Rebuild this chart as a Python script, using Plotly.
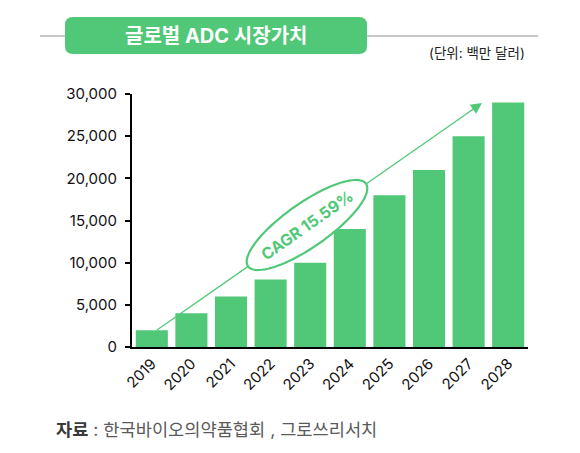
import numpy as np
import plotly.graph_objects as go

years = [2019, 2020, 2021, 2022, 2023, 2024, 2025, 2026, 2027, 2028]
values = [2000, 4000, 6000, 8000, 10000, 14000, 18000, 21000, 25000, 29000]
y_ticks = [0, 5000, 10000, 15000, 20000, 25000, 30000]
y_tick_labels = ["0", "5,000", "10,000", "15,000", "20,000", "25,000", "30,000"]
title_text = "<b>글로벌 ADC 시장가치</b>"
unit_text = "(단위: 백만 달러)"
source_text = "<b><span style='color:#3a3a3a'>자료</span></b> : 한국바이오의약품협회 , 그로쓰리서치"
cagr_text = "<b>CAGR 15.59%</b>"

GREEN = "#50c878"
FONT = "Inter, 'Noto Sans CJK KR', sans-serif"

# plot area in window pixels (page has an 8px body margin)
PL, PR, PT, PB = 132, 528, 94, 347
OFF = 8
W, H = 580, 453


def xp(wx):
    return (wx - PL) / (PR - PL)


def yp(wy):
    return (PB - wy) / (PB - PT)


def xd(wx):
    return 2018.5 + (wx - PL) / (PR - PL) * 10


def yd(wy):
    return (PB - wy) / (PB - PT) * 30000


fig = go.Figure()
fig.add_trace(go.Bar(x=years, y=values, marker=dict(color=GREEN, line=dict(width=0)),
                     hoverinfo="skip"))

# rotated ellipse in pixel offsets
ang = np.deg2rad(35)
a, b = 72, 22
t = np.linspace(0, 2 * np.pi, 97)
ex = a * np.cos(t) * np.cos(ang) - b * np.sin(t) * np.sin(ang)
ey = a * np.cos(t) * np.sin(ang) + b * np.sin(t) * np.cos(ang)
ell_path = "M " + " L ".join(f"{x:.2f},{y:.2f}" for x, y in zip(ex, ey)) + " Z"

box_path = ("M -143,18.5 L 143,18.5 Q 151,18.5 151,10.5 L 151,-10.5 Q 151,-18.5 143,-18.5 "
            "L -143,-18.5 Q -151,-18.5 -151,-10.5 L -151,10.5 Q -151,18.5 -143,18.5 Z")

arrow_start = (157, 330)
arrow_tip = (482, 103)
dx, dy = arrow_tip[0] - arrow_start[0], arrow_tip[1] - arrow_start[1]
L = (dx ** 2 + dy ** 2) ** 0.5
pre = (arrow_tip[0] - dx / L * 20, arrow_tip[1] - dy / L * 20)

fig.update_layout(
    width=W, height=H,
    margin=dict(l=PL - OFF, r=W - (PR - OFF), t=PT - OFF, b=H - (PB - OFF)),
    paper_bgcolor="white", plot_bgcolor="white",
    showlegend=False,
    bargap=0.19,
    font=dict(family=FONT, color="#222"),
    xaxis=dict(range=[2018.5, 2028.5], tickvals=years, ticktext=[str(y) for y in years],
               tickangle=-45, showgrid=False, zeroline=False, showline=True,
               linecolor="black", linewidth=2, ticks="", tickfont=dict(size=15, color="#111"),
               fixedrange=True),
    yaxis=dict(range=[0, 30000], tickvals=y_ticks, ticktext=y_tick_labels,
               showgrid=False, zeroline=False, showline=True, linecolor="black",
               linewidth=2, ticks="outside", ticklen=5, tickwidth=2, tickcolor="black",
               ticklabelstandoff=5,
               tickfont=dict(size=15, color="#111"), fixedrange=True),
    shapes=[
        dict(type="line", xref="paper", yref="paper", x0=xp(40), x1=xp(538),
             y0=yp(36), y1=yp(36), line=dict(color="#c8c8c8", width=2), layer="below"),
        dict(type="path", xref="paper", yref="paper", xsizemode="pixel", ysizemode="pixel",
             xanchor=xp(216), yanchor=yp(35.5), path=box_path,
             fillcolor=GREEN, line=dict(width=0)),
        dict(type="line", xref="x", yref="y", x0=xd(arrow_start[0]), y0=yd(arrow_start[1]),
             x1=xd(pre[0]), y1=yd(pre[1]), line=dict(color=GREEN, width=1.3)),
        dict(type="path", xref="x", yref="y", xsizemode="pixel", ysizemode="pixel",
             xanchor=xd(307), yanchor=yd(225),
             path=ell_path, fillcolor="white", line=dict(color=GREEN, width=2.2)),
    ],
    annotations=[
        dict(x=xd(arrow_tip[0]), y=yd(arrow_tip[1]), ax=xd(pre[0] - dx / L * 2), ay=yd(pre[1] - dy / L * 2),
             xref="x", yref="y", axref="x", ayref="y", text="", showarrow=True,
             arrowhead=2, arrowsize=1.7, arrowwidth=1.3, arrowcolor=GREEN),
        dict(x=xd(307), y=yd(225), xref="x", yref="y",
             text=cagr_text, showarrow=False, textangle=-35,
             font=dict(size=16, color=GREEN, family=FONT)),
        dict(x=xp(216), y=yp(35.5), xref="paper", yref="paper", xanchor="center", yanchor="middle",
             text=title_text, showarrow=False, font=dict(size=20, color="white", family=FONT)),
        dict(x=xp(527), y=yp(53), xref="paper", yref="paper", xanchor="right", yanchor="middle",
             text=unit_text, showarrow=False,
             font=dict(size=13.5, color="#222", family=FONT)),
        dict(x=xp(54), y=yp(430), xref="paper", yref="paper", xanchor="left", yanchor="middle",
             text=source_text, showarrow=False,
             font=dict(size=17.6, color="#5a5a5a", family=FONT)),
    ],
)

fig.write_html("out.html")
